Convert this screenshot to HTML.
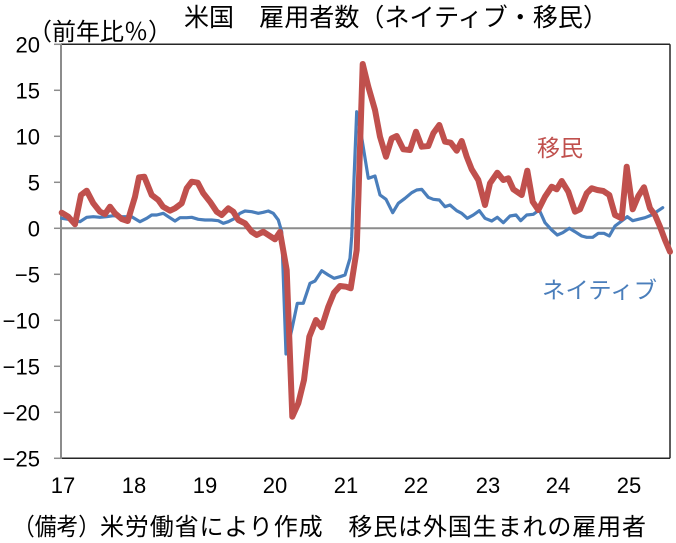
<!DOCTYPE html>
<html>
<head>
<meta charset="utf-8">
<style>
html,body{margin:0;padding:0;background:#fff;}
svg{display:block;}
.j{font-family:"Liberation Sans","Noto Sans CJK JP",sans-serif;}
.n{font-family:"Liberation Sans",sans-serif;font-size:22px;fill:#000;}
</style>
</head>
<body>
<svg width="676" height="543" viewBox="0 0 676 543" xmlns="http://www.w3.org/2000/svg">
<rect x="0" y="0" width="676" height="543" fill="#fff"/>

<!-- Title -->
<text class="j" x="184" y="26" font-size="25" fill="#000" textLength="424" lengthAdjust="spacing">米国　雇用者数（ネイティブ・移民）</text>
<text class="j" x="28" y="40" font-size="24" fill="#000">（前年比％）</text>

<!-- plot frame -->
<line x1="61" y1="44.3" x2="670" y2="44.3" stroke="#262626" stroke-width="1.5"/>
<line x1="670" y1="44.3" x2="670" y2="458.3" stroke="#262626" stroke-width="1.5"/>
<line x1="61" y1="458.3" x2="670" y2="458.3" stroke="#262626" stroke-width="1.5"/>
<line x1="61" y1="228.3" x2="670" y2="228.3" stroke="#8c8c8c" stroke-width="2"/>
<line x1="61" y1="44" x2="61" y2="459" stroke="#8c8c8c" stroke-width="2"/>

<!-- y ticks -->
<g stroke="#8c8c8c" stroke-width="1.5">
<line x1="54" y1="44.3" x2="61" y2="44.3"/>
<line x1="54" y1="90.3" x2="61" y2="90.3"/>
<line x1="54" y1="136.3" x2="61" y2="136.3"/>
<line x1="54" y1="182.3" x2="61" y2="182.3"/>
<line x1="54" y1="228.3" x2="61" y2="228.3"/>
<line x1="54" y1="274.3" x2="61" y2="274.3"/>
<line x1="54" y1="320.3" x2="61" y2="320.3"/>
<line x1="54" y1="366.3" x2="61" y2="366.3"/>
<line x1="54" y1="412.3" x2="61" y2="412.3"/>
<line x1="54" y1="458.3" x2="61" y2="458.3"/>
</g>

<!-- y labels -->
<g class="n" text-anchor="end">
<text x="40" y="52.3">20</text>
<text x="40" y="98.3">15</text>
<text x="40" y="144.3">10</text>
<text x="40" y="190.3">5</text>
<text x="40" y="236.3">0</text>
<text x="40" y="282.3">−5</text>
<text x="40" y="328.3">−10</text>
<text x="40" y="374.3">−15</text>
<text x="40" y="420.3">−20</text>
<text x="40" y="466.3">−25</text>
</g>

<!-- x labels -->
<g class="n" text-anchor="middle">
<text x="63" y="493">17</text>
<text x="134" y="493">18</text>
<text x="205" y="493">19</text>
<text x="275" y="493">20</text>
<text x="346" y="493">21</text>
<text x="416" y="493">22</text>
<text x="488" y="493">23</text>
<text x="558" y="493">24</text>
<text x="629" y="493">25</text>
</g>

<!-- Native (blue) -->
<polyline fill="none" stroke="#4A7EBB" stroke-width="3.2" stroke-linejoin="round" stroke-linecap="round"
points="61.7,218.3 68.3,219.3 80,221.7 86.7,217.3 93.3,216.7 100,217.3 106.7,216.7 113.3,215.7 121.7,216.7 131.7,216.7 140,221.7 146.7,218.3 151.7,215 156.7,215 163.3,213.3 168.3,216.7 175,221 180,217.7 186.7,217.7 191.7,217.3 198.3,219.3 205,220 211.7,220 218.3,220.7 223.3,223.3 228.3,221.7 235,218.3 240,213.3 245,211 251.7,211.7 258.3,213.3 263.3,212.3 268.3,211 273.3,213.3 278.3,220 281.7,231.7 286,354 291.7,330 297.3,303.3 303.3,303.3 310,283.3 315,281 321.7,270.7 328.3,275 334,278.3 340,276.7 345,275 350,258.3 351.7,236.7 356.7,111.7 361,133.3 368.3,178.3 375,176 380,195 386,199.3 392.7,212.7 398.3,203.3 405,198.3 411.7,192.7 416.7,190 421.7,189.3 428.3,197.3 433.3,199.3 439.3,200 445,206.7 450,205 456.7,210.7 461.7,213.3 467.3,218.3 473.3,215 479.3,210.7 485,218.3 491.7,221 497.3,217.3 503.3,222.7 510,216 516,215 520.7,220.7 526.7,215 533.3,214.3 539.3,210 545,222.7 551.7,230 557.3,235 562.7,232.7 569.3,228.3 575,231.7 581.7,236 586.7,237.3 592.7,237.3 598.3,233.3 604,233.3 609.3,236 615,226 621.7,221 627.3,216.7 632.7,220.7 638.3,219.3 645,217.7 651.7,215 656.7,211.7 662.7,207.7"/>

<!-- Immigrant (red) -->
<polyline fill="none" stroke="#C0504D" stroke-width="6" stroke-linejoin="round" stroke-linecap="round"
points="61.7,212.7 68.3,216.7 75,224.3 81,195 86.7,190.7 93.3,203.3 100,211.7 105,214 110,206.7 115,213.3 121.7,219 127.7,221 135,196.7 139,177.3 144.3,176.7 151.7,195 158.3,200 163,206.7 170,210.7 175,208.3 181.7,203.3 186.7,188.3 191.7,181.7 197.7,182.7 203.3,193.3 210,201.7 216.7,211.7 221.7,215 228.3,208.3 233.3,211.7 238.3,220 245,223.3 251.7,231.7 256.7,235 263.3,231.7 268.3,235 275,239.3 280,232 286.7,270 292.3,416.7 298.3,403.3 304,380 309.3,336.7 316,320 321.7,327.3 328.3,306.7 334,292.7 340,286 346,286.7 350.7,288.3 356.7,250 362.7,64 368.3,86.7 375,110 380,136.7 386,156.7 391.7,138.3 396.7,136 403.3,149.3 410,150 416,131.7 421.7,146.7 428.3,146 433.3,133.3 439.3,125 445,141.7 450.7,142.7 456.7,150.7 461.7,141 466.7,156.7 471.7,169.3 478.3,180 485,205 490,183.3 497.3,172.7 503.3,180 508.3,178.3 513.3,189.3 521.7,195 527.3,170.7 532.7,201.7 538.3,210 545,196.7 551.7,186.7 556.7,189.3 561.7,181 568.3,191.7 575,211.7 580,209.3 586.7,193.3 591.7,188.3 597.3,190 603.3,191 609.3,195 615,215 621.7,218.3 626.7,166.7 632.7,209.3 638.3,196 644,187.3 650,208.3 655,215 660,226.7 665,240 670,251.7"/>

<!-- series labels -->
<text class="j" x="537" y="156" font-size="23" fill="#C0504D">移民</text>
<text class="j" x="542" y="298" font-size="23" fill="#4A7EBB" textLength="115" lengthAdjust="spacingAndGlyphs">ネイティブ</text>

<!-- note -->
<text class="j" x="13" y="535" font-size="24" fill="#000" textLength="87" lengthAdjust="spacingAndGlyphs">（備考）</text>
<text class="j" x="100" y="535" font-size="24" fill="#000" textLength="546" lengthAdjust="spacing">米労働省により作成　移民は外国生まれの雇用者</text>
</svg>
</body>
</html>
